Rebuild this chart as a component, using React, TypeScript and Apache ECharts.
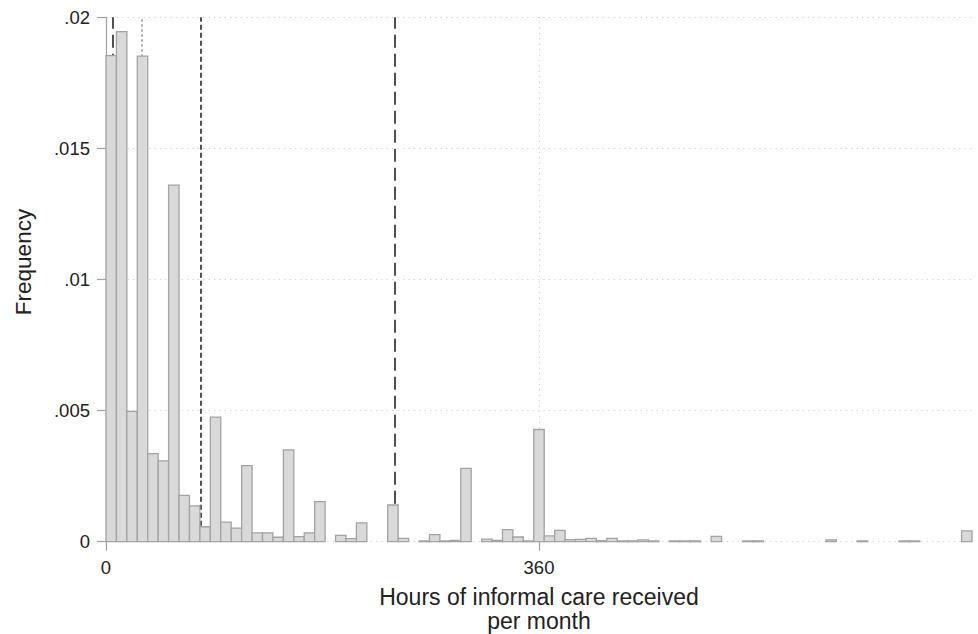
import React, { useEffect, useRef } from "react";
import * as echarts from "echarts";

// Histogram: 83 bins spanning 0–720 hours
const X_MAX = 720;
const BIN_COUNT = 83;
const binDensity: number[] = [
  0.01854, 0.01945, 0.00497, 0.01852, 0.00336, 0.00308, 0.0136, 0.00177, 0.00137, 0.00057,
  0.00475, 0.00075, 0.00052, 0.0029, 0.00034, 0.00034, 0.00017, 0.0035, 0.00019, 0.00034,
  0.00153, 0, 0.00024, 0.00012, 0.00072, 0, 0, 0.0014, 0.00013, 0,
  0.00003, 0.00027, 0.00003, 0.00005, 0.0028, 0, 0.0001, 0.00005, 0.00046, 0.00018,
  0.00003, 0.00428, 0.00022, 0.00043, 0.00008, 0.00009, 0.00013, 0.00004, 0.00013, 0.00003,
  0.00003, 0.00007, 0.00003, 0, 0.00003, 0.00003, 0.00003, 0, 0.0002, 0,
  0, 0.00003, 0.00003, 0, 0, 0, 0, 0, 0, 0.00007,
  0, 0, 0.00003, 0, 0, 0, 0.00003, 0.00003, 0, 0,
  0, 0, 0.00041,
];

const xTickValues = [0, 360];
const xGridValues = [360];

// Reference lines (hours)
const refLines = [
  { value: 6, kind: "longdash" },
  { value: 30, kind: "dot" },
  { value: 79, kind: "shortdash" },
  { value: 240, kind: "longdash" },
];

const FONT = "'Liberation Sans', Arial, sans-serif";
const GRID_STYLE = { color: "#cfcfcf", type: [1.2, 4.2], width: 1.2 };

export default function App() {
  const ref = useRef<HTMLDivElement>(null);
  useEffect(() => {
    if (!ref.current) return;
    const chart = echarts.init(ref.current, undefined, { renderer: "svg" });
    const w = X_MAX / BIN_COUNT;
    const data = binDensity
      .map((v, i) => [i * w, (i + 1) * w, v])
      .filter((d) => d[2] > 0);

    const lineStyleFor = (kind: string) => {
      if (kind === "dot") return { color: "#9a9a9a", width: 1.5, type: [2.5, 2.5] };
      if (kind === "shortdash") return { color: "#333", width: 1.7, type: [5, 3] };
      return { color: "#333", width: 1.7, type: [13, 6] };
    };

    const fmtY = (v: number) => {
      if (v === 0) return "0";
      const s = parseFloat(v.toFixed(4)).toString();
      return s.replace(/^0\./, ".");
    };

    chart.setOption({
      animation: false,
      backgroundColor: "#ffffff",
      textStyle: { fontFamily: FONT },
      grid: {
        left: 106,
        right: 6,
        top: 17.3,
        bottom: 92.3,
        containLabel: false,
        outerBoundsMode: "none",
      },
      xAxis: {
        type: "value",
        min: 0,
        max: X_MAX,
        interval: 360,
        axisLine: { show: false },
        axisTick: {
          show: true,
          customValues: xTickValues,
          length: 9,
          lineStyle: { color: "#a0a0a0", width: 1.2 },
        },
        axisLabel: {
          customValues: xTickValues,
          margin: 16,
          fontSize: 18.5,
          color: "#222",
          fontFamily: FONT,
        },
        splitLine: { show: false },
        name: "Hours of informal care received\nper month",
        nameLocation: "middle",
        nameGap: 44,
        nameTextStyle: { fontSize: 23, color: "#222", fontFamily: FONT, lineHeight: 23.5 },
      },
      yAxis: {
        type: "value",
        min: 0,
        max: 0.02,
        interval: 0.005,
        axisLine: { show: true, lineStyle: { color: "#a0a0a0", width: 1.2 } },
        axisTick: { show: true, length: 9, lineStyle: { color: "#a0a0a0", width: 1.2 } },
        axisLabel: {
          margin: 16,
          fontSize: 18.5,
          color: "#222",
          fontFamily: FONT,
          formatter: (v: number) => fmtY(v),
        },
        splitLine: {
          show: true,
          showMinLine: true,
          showMaxLine: true,
          lineStyle: GRID_STYLE,
        },
      },
      graphic: [
        {
          type: "text",
          x: 23,
          y: 262,
          rotation: Math.PI / 2,
          style: {
            text: "Frequency",
            fontSize: 22.5,
            fill: "#222",
            fontFamily: FONT,
            align: "center",
            verticalAlign: "middle",
          },
        },
      ],
      series: [
        {
          type: "line",
          data: [],
          z: 1,
          silent: true,
          markLine: {
            silent: true,
            symbol: ["none", "none"],
            label: { show: false },
            data: [
              ...xGridValues.map((v) => ({ xAxis: v, lineStyle: GRID_STYLE })),
              ...refLines.map((r) => ({ xAxis: r.value, lineStyle: lineStyleFor(r.kind) })),
            ],
          },
        },
        {
          type: "custom",
          z: 5,
          encode: { x: [0, 1], y: 2 },
          data,
          renderItem: (params: any, api: any) => {
            const x0 = api.value(0);
            const x1 = api.value(1);
            const v = api.value(2);
            const p0 = api.coord([x0, v]);
            const p1 = api.coord([x1, 0]);
            return {
              type: "rect",
              shape: { x: p0[0], y: p0[1], width: p1[0] - p0[0], height: p1[1] - p0[1] },
              style: { fill: "#d9d9d9", stroke: "#a3a3a3", lineWidth: 1.3 },
            };
          },
        },
      ],
    });
    return () => chart.dispose();
  }, []);
  return (
    <div
      ref={ref}
      style={{ position: "fixed", left: 0, top: 0, width: 978, height: 634, background: "#fff" }}
    />
  );
}
